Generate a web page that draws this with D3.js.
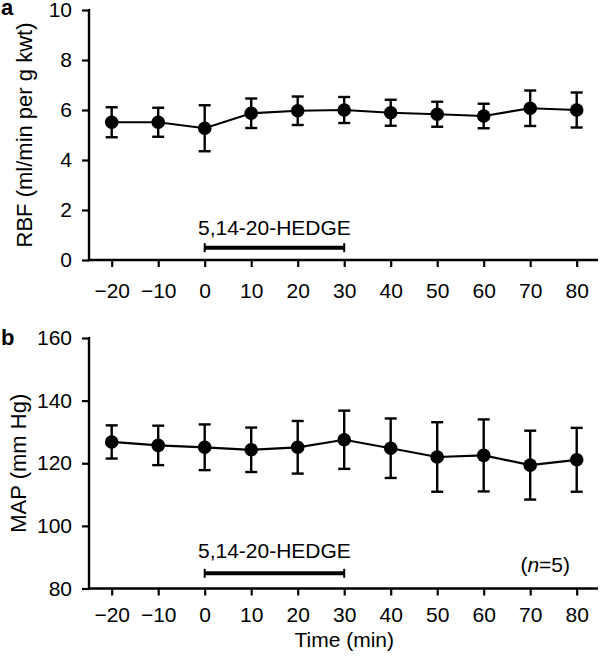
<!DOCTYPE html>
<html>
<head>
<meta charset="utf-8">
<script src="https://cdn.jsdelivr.net/npm/d3@7/dist/d3.min.js"></script>
<style>
  html, body { margin: 0; padding: 0; background: #fff; }
  svg { display: block; }
  text { font-family: "Liberation Sans", Arial, Helvetica, sans-serif; fill: #000; }
</style>
</head>
<body>
<script>
// ---- data ----
const times = [-20, -10, 0, 10, 20, 30, 40, 50, 60, 70, 80];
const rbfMean = [5.51, 5.51, 5.27, 5.87, 5.97, 6.0, 5.89, 5.83, 5.76, 6.07, 6.0];
const rbfErr  = [0.60, 0.58, 0.92, 0.59, 0.57, 0.52, 0.52, 0.50, 0.49, 0.71, 0.70];
const mapMean = [126.8, 125.7, 125.1, 124.3, 125.1, 127.5, 124.8, 122.0, 122.5, 119.4, 121.1];
const mapErr  = [5.3, 6.3, 7.3, 7.1, 8.4, 9.3, 9.5, 11.1, 11.5, 11.0, 10.2];
const yTicksA = [0, 2, 4, 6, 8, 10];
const yTicksB = [80, 100, 120, 140, 160];
const xTicks = [-20, -10, 0, 10, 20, 30, 40, 50, 60, 70, 80];
const hedgeStart = 0, hedgeEnd = 30;
const hedgeLabel = "5,14-20-HEDGE";

const W = 600, H = 656;
const svg = d3.select("body").append("svg").attr("width", W).attr("height", H);

const axisX0 = 89, axisX1 = 598;
const x = d3.scaleLinear().domain([-20, 80]).range([111.7, 576.7]);

function panel(opts) {
  const { y, mean, err, yTicks, letter, letterY, ylabel, ylabelX, xLabelBaseline, hedgeLabelY, hedgeBarY } = opts;
  const g = svg.append("g");
  const yBottom = y.range()[0], yTop = y.range()[1];

  // y axis
  const yAxis = d3.axisLeft(y).tickValues(yTicks).tickSize(7).tickSizeOuter(0).tickPadding(10);
  const ya = g.append("g").attr("transform", `translate(${axisX0},0)`).call(yAxis);
  ya.select(".domain").remove();
  ya.selectAll(".tick line").attr("stroke", "#000").attr("stroke-width", 2.2);
  ya.selectAll(".tick text").attr("font-size", 21).attr("fill", "#000")
    .attr("font-family", "Liberation Sans, Arial, sans-serif");
  g.append("line").attr("x1", axisX0).attr("x2", axisX0).attr("y1", yTop - 1).attr("y2", yBottom)
    .attr("stroke", "#000").attr("stroke-width", 2.4);

  // x axis
  const xAxis = d3.axisBottom(x).tickValues(xTicks).tickSize(7).tickSizeOuter(0)
    .tickFormat(d => d < 0 ? "\u2212" + Math.abs(d) : String(d));
  const xa = g.append("g").attr("transform", `translate(0,${yBottom})`).call(xAxis);
  xa.select(".domain").remove();
  xa.selectAll(".tick line").attr("stroke", "#000").attr("stroke-width", 2.2);
  xa.selectAll(".tick text").attr("font-size", 21).attr("fill", "#000")
    .attr("font-family", "Liberation Sans, Arial, sans-serif")
    .attr("dy", null).attr("y", xLabelBaseline - yBottom);
  g.append("line").attr("x1", axisX0 - 1).attr("x2", axisX1).attr("y1", yBottom).attr("y2", yBottom)
    .attr("stroke", "#000").attr("stroke-width", 2.4);

  // error bars
  const eb = g.append("g");
  times.forEach((t, i) => {
    const cx = x(t), y1 = y(mean[i] + err[i]), y2 = y(mean[i] - err[i]);
    eb.append("line").attr("x1", cx).attr("x2", cx).attr("y1", y1).attr("y2", y2)
      .attr("stroke", "#000").attr("stroke-width", 2.4);
    [y1, y2].forEach(yy => eb.append("line").attr("x1", cx - 6).attr("x2", cx + 6)
      .attr("y1", yy).attr("y2", yy).attr("stroke", "#000").attr("stroke-width", 2.4));
  });

  // line
  const line = d3.line().x((d, i) => x(times[i])).y(d => y(d));
  g.append("path").datum(mean).attr("d", line).attr("fill", "none")
    .attr("stroke", "#000").attr("stroke-width", 2.2);

  // points
  g.selectAll("circle.pt").data(mean).enter().append("circle")
    .attr("cx", (d, i) => x(times[i])).attr("cy", d => y(d)).attr("r", 6.8).attr("fill", "#000");

  // hedge bar
  const hx0 = x(hedgeStart), hx1 = x(hedgeEnd);
  g.append("line").attr("x1", hx0).attr("x2", hx1).attr("y1", hedgeBarY).attr("y2", hedgeBarY)
    .attr("stroke", "#000").attr("stroke-width", 4);
  [hx0, hx1].forEach(hx => g.append("line").attr("x1", hx).attr("x2", hx)
    .attr("y1", hedgeBarY - 4.5).attr("y2", hedgeBarY + 4.5).attr("stroke", "#000").attr("stroke-width", 2));
  g.append("text").attr("x", (hx0 + hx1) / 2).attr("y", hedgeLabelY).attr("text-anchor", "middle")
    .attr("font-size", 21).text(hedgeLabel);

  // panel letter
  g.append("text").attr("x", 1).attr("y", letterY).attr("font-size", 22).attr("font-weight", "bold").text(letter);

  // y label
  g.append("text").attr("transform", `translate(${ylabelX},${(yTop + yBottom) / 2}) rotate(-90)`)
    .attr("text-anchor", "middle").attr("font-size", 22).text(ylabel);
  return g;
}

const yA = d3.scaleLinear().domain([0, 10]).range([260, 10]);
panel({ y: yA, mean: rbfMean, err: rbfErr, yTicks: yTicksA, letter: "a", letterY: 15,
  ylabel: "RBF (ml/min per g kwt)", ylabelX: 32, xLabelBaseline: 297.5,
  hedgeLabelY: 235, hedgeBarY: 247.7 });

const yB = d3.scaleLinear().domain([80, 160]).range([588.5, 338]);
panel({ y: yB, mean: mapMean, err: mapErr, yTicks: yTicksB, letter: "b", letterY: 345,
  ylabel: "MAP (mm Hg)", ylabelX: 25.5, xLabelBaseline: 622,
  hedgeLabelY: 558, hedgeBarY: 573.3 });

// n label
const nt = svg.append("text").attr("x", 570).attr("y", 572).attr("text-anchor", "end").attr("font-size", 21);
nt.append("tspan").text("(");
nt.append("tspan").attr("font-style", "italic").text("n");
nt.append("tspan").text("=5)");

// x title
svg.append("text").attr("x", x(30)).attr("y", 647).attr("text-anchor", "middle")
  .attr("font-size", 21).text("Time (min)");
</script>
</body>
</html>
